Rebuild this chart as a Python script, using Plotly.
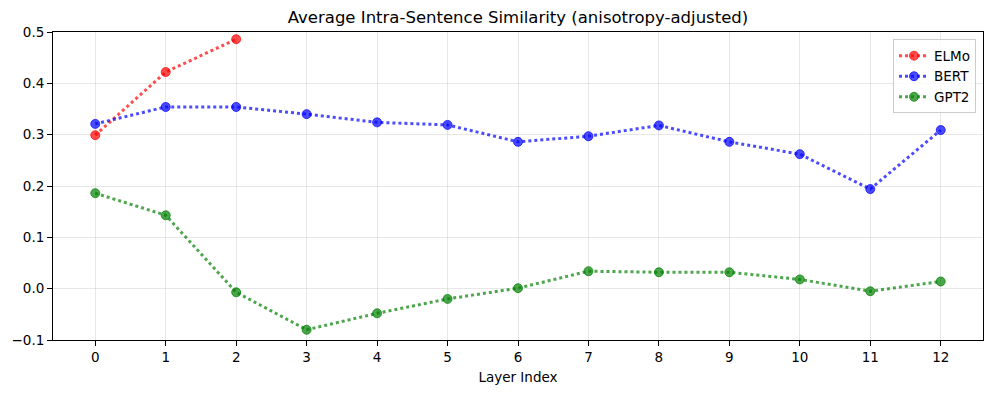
import plotly.graph_objects as go

layers = list(range(13))
tick_labels = [str(i) for i in layers]

elmo_x = [0, 1, 2]
elmo = [0.299, 0.422, 0.486]
bert = [0.321, 0.354, 0.354, 0.340, 0.324, 0.319, 0.286, 0.297, 0.318, 0.286, 0.262, 0.194, 0.309]
gpt2 = [0.186, 0.143, -0.007, -0.080, -0.048, -0.020, 0.001, 0.034, 0.032, 0.032, 0.018, -0.005, 0.014]

series = [
    ("ELMo", elmo_x, elmo, "rgba(255,0,0,0.7)"),
    ("BERT", layers, bert, "rgba(0,0,255,0.7)"),
    ("GPT2", layers, gpt2, "rgba(0,128,0,0.7)"),
]

fig = go.Figure()
for name, xs, ys, col in series:
    fig.add_trace(go.Scatter(
        x=xs, y=ys, name=name, mode="lines+markers",
        line=dict(color=col, width=3, dash="dot"),
        marker=dict(color=col, size=9, line=dict(color=col, width=1)),
    ))

font = "DejaVu Sans, Liberation Sans, sans-serif"
fig.update_layout(
    width=996, height=393,
    margin=dict(l=53, r=13, t=32, b=53, autoexpand=False),
    paper_bgcolor="white", plot_bgcolor="white",
    font=dict(family=font, size=13.5, color="black"),
    title=dict(text="Average Intra-Sentence Similarity (anisotropy-adjusted)",
               x=0.5, xref="paper", y=1 - 17 / 393, yref="container", yanchor="middle",
               font=dict(size=16.5, family=font)),
    showlegend=True,
    legend=dict(x=0.9925, y=0.976, xanchor="right", yanchor="top",
                bgcolor="rgba(255,255,255,0.8)", bordercolor="#cccccc", borderwidth=1,
                font=dict(size=13.5), tracegroupgap=0),
)
fig.update_xaxes(
    range=[-0.6, 12.6], tickmode="array", tickvals=layers, ticktext=tick_labels,
    showgrid=True, gridcolor="rgba(176,176,176,0.3)", gridwidth=1,
    showline=True, linecolor="black", linewidth=1, mirror=True,
    ticks="outside", ticklen=5, tickcolor="black", zeroline=False, automargin=False,
    title=dict(text="Layer Index", standoff=8, font=dict(size=13.5)),
)
fig.update_yaxes(
    range=[-0.1, 0.5], dtick=0.1, tick0=-0.1, tickformat=".1f",
    showgrid=True, gridcolor="rgba(176,176,176,0.3)", gridwidth=1,
    showline=True, linecolor="black", linewidth=1, mirror=True,
    ticks="outside", ticklen=5, tickcolor="black", zeroline=False, automargin=False,
)
fig.write_html("out.html", config={"displayModeBar": False},
               post_script="document.body.style.margin='0';document.body.style.overflow='hidden';")
